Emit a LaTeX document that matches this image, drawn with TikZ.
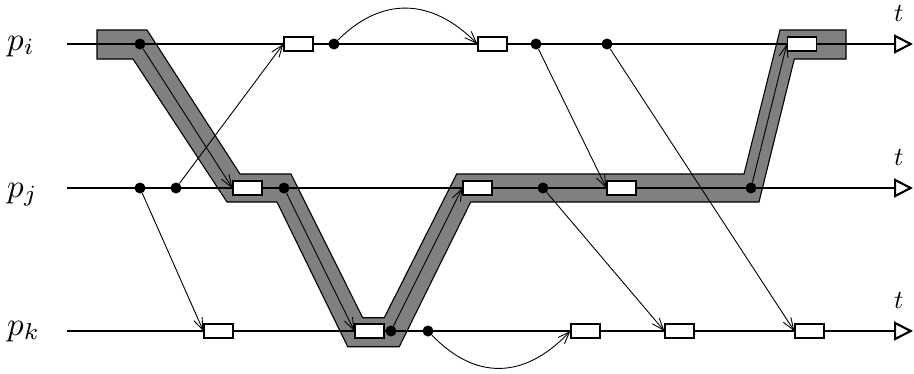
\documentclass[tikz,border=0pt]{standalone}
\usetikzlibrary{arrows.meta}
\pgfdeclarelayer{bandlayer}
\pgfdeclarelayer{linelayer}
\pgfsetlayers{bandlayer,linelayer,main}
\newcommand{\bigP}[1]{\scalebox{3.3}{$#1$}}
\newcommand{\bigT}[1]{\scalebox{2.6}{$#1$}}
\begin{document}
\begin{tikzpicture}[x=1pt,y=-1pt,
  tline/.style={line width=2.1pt,-{Triangle[length=19pt,width=19pt,fill=white]}},
  msg/.style={line width=0.9pt,-{Straight Barb[length=12pt,width=9pt]}},
  ev/.style={circle,fill=black,inner sep=0pt,minimum size=11pt},
  rb/.style={draw,fill=white,line width=1.3pt,minimum width=29pt,minimum height=14pt,inner sep=0pt},
  plab/.style={anchor=base west,inner sep=0pt},
  tlab/.style={anchor=base west,inner sep=0pt},
  band/.style={fill=gray,draw=black,line width=1.1pt,line join=miter}]
\useasboundingbox (0,0) rectangle (914,373);

% events on p_i
\node[ev] (i1) at (140,44) {};
\node[rb] (i2) at (298.5,44) {};
\node[ev] (i3) at (334,44) {};
\node[rb] (i4) at (492.5,44) {};
\node[ev] (i5) at (536,44) {};
\node[ev] (i6) at (607,44) {};
\node[rb] (i7) at (802,44) {};
% events on p_j
\node[ev] (j1) at (140,188) {};
\node[ev] (j2) at (176,188) {};
\node[rb] (j3) at (247.5,188) {};
\node[ev] (j4) at (284,188) {};
\node[rb] (j5) at (477.5,188) {};
\node[ev] (j6) at (543,188) {};
\node[rb] (j7) at (621.5,188) {};
\node[ev] (j8) at (751,188) {};
% events on p_k
\node[rb] (k1) at (218.5,331) {};
\node[rb] (k2) at (369.5,331) {};
\node[ev] (k3) at (391,331) {};
\node[ev] (k4) at (428,331) {};
\node[rb] (k5) at (585.5,331) {};
\node[rb] (k6) at (679.5,331) {};
\node[rb] (k7) at (809.5,331) {};

% labels
\node[plab] (li) at (7,50) {\bigP{p_i}};
\node[plab] (lj) at (7,197) {\bigP{p_j}};
\node[plab] (lk) at (7,335) {\bigP{p_k}};
\node[tlab] (ti) at (894,21) {\bigT{t}};
\node[tlab] (tj) at (894,165) {\bigT{t}};
\node[tlab] (tk) at (894,308) {\bigT{t}};

\coordinate (iS) at (67,44);  \coordinate (iE) at (913,44);
\coordinate (jS) at (67,188); \coordinate (jE) at (913,188);
\coordinate (kS) at (67,331); \coordinate (kE) at (913,331);

\begin{pgfonlayer}{bandlayer}
\draw[band] (97,30) -- (147,30) -- (240,174) -- (291,174) -- (362.7,317.7)
  -- (384.3,317.7) -- (456.7,174) -- (744,174) -- (780,30) -- (846,30)
  -- (846,59) -- (794.3,59) -- (759,202) -- (470.7,202) -- (399.3,346.7)
  -- (347.7,346.7) -- (277,202) -- (227,202) -- (133,59) -- (97,59) -- cycle;
\end{pgfonlayer}

\begin{pgfonlayer}{linelayer}
\draw[tline] (iS) -- (iE);
\draw[tline] (jS) -- (jE);
\draw[tline] (kS) -- (kE);
\draw[msg] (j2) -- (i2.west);
\draw[msg] (i1) -- (j3.west);
\draw[msg] (i3) .. controls (381,-3) and (431,-3) .. (i4.west);
\draw[msg] (i5) -- (j7.west);
\draw[msg] (i6) -- (k7.west);
\draw[msg] (j1) -- (k1.west);
\draw[msg] (j4) -- (k2.west);
\draw[msg] (k3) -- (j5.west);
\draw[msg] (j6) -- (k6.west);
\draw[msg] (k4) .. controls (475,380) and (524,380) .. (k5.west);
\draw[msg] (j8) -- (i7.west);
\end{pgfonlayer}
\end{tikzpicture}
\end{document}
